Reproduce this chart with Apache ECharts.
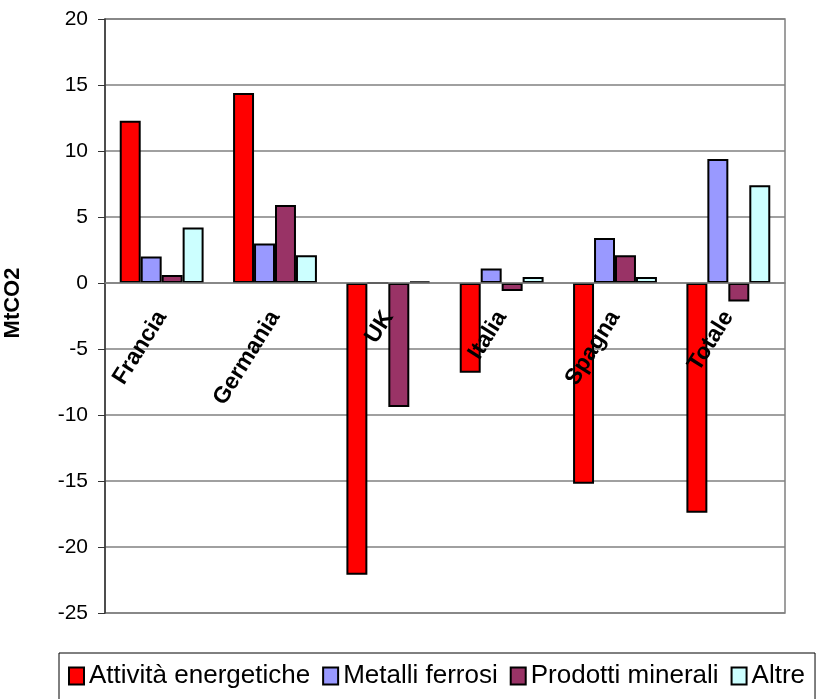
<!DOCTYPE html>
<html>
<head>
<meta charset="utf-8">
<script src="https://cdn.jsdelivr.net/npm/echarts@6/dist/echarts.min.js"></script>
<style>
  html, body { margin: 0; padding: 0; background: #fff; }
  #main { width: 817px; height: 699px; }
</style>
</head>
<body>
<div id="main"></div>
<script>
// valori (MtCO2)
var paesi = ["Francia", "Germania", "UK", "Italia", "Spagna", "Totale"];
var energetiche = [12.3, 14.4, -22.1, -6.8, -15.2, -17.4];
var ferrosi = [2.0, 3.0, 0, 1.1, 3.4, 9.4];
var minerali = [0.6, 5.9, -9.4, -0.6, 2.1, -1.4];
var altre = [4.2, 2.1, 0.1, 0.45, 0.45, 7.4];

var yMin = -25, yMax = 20, yStep = 5;

var font = "Liberation Sans, Arial, sans-serif";
var gridTop = 19, gridBottom = 86;
var plotH = 699 - gridTop - gridBottom;
// sposta l'asse delle categorie sulla linea dello zero
var xOffset = -plotH * (0 - yMin) / (yMax - yMin);

function serie(nome, dati, colore) {
  return {
    name: nome,
    type: "bar",
    data: dati,
    barGap: 0,
    barCategoryGap: "26%",
    itemStyle: { color: colore, borderColor: "#000", borderWidth: 2 }
  };
}

var myChart = echarts.init(document.getElementById("main"));

myChart.setOption({
  animation: false,
  textStyle: { fontFamily: font },
  grid: {
    left: 105, right: 32, top: gridTop, bottom: gridBottom,
    containLabel: false,
    outerBoundsMode: "none",
    show: true, borderColor: "#808080", borderWidth: 1.5
  },
  legend: {
    left: 59, top: 653, width: 790,
    padding: [10, 10, 40, 9],
    borderColor: "#000", borderWidth: 1,
    icon: "rect",
    itemWidth: 15, itemHeight: 17, itemGap: 12,
    textStyle: { fontFamily: font, fontSize: 26, color: "#000" },
    data: ["Attività energetiche", "Metalli ferrosi", "Prodotti minerali", "Altre"]
  },
  xAxis: {
    type: "category",
    data: paesi,
    position: "bottom",
    offset: xOffset,
    z: 10,
    axisLine: { onZero: false, lineStyle: { color: "#808080", width: 1.5 } },
    axisTick: { length: 7, lineStyle: { color: "#808080" } },
    axisLabel: {
      rotate: 58, margin: 30, interval: 0,
      fontFamily: font, fontSize: 23, fontWeight: "bold", color: "#000"
    }
  },
  yAxis: {
    type: "value",
    min: yMin, max: yMax, interval: yStep,
    name: "MtCO2",
    nameLocation: "middle",
    nameGap: 81,
    nameTextStyle: { fontFamily: font, fontSize: 22, fontWeight: "bold", color: "#000", padding: [0, 0, 0, 26] },
    axisLine: { show: true, lineStyle: { color: "#333", width: 1.5 } },
    axisTick: { show: true, length: 7, lineStyle: { color: "#333" } },
    axisLabel: { margin: 17, fontFamily: font, fontSize: 21, color: "#000" },
    splitLine: { lineStyle: { color: "#808080", width: 1.5 } }
  },
  series: [
    serie("Attività energetiche", energetiche, "#FF0000"),
    serie("Metalli ferrosi", ferrosi, "#9999FF"),
    serie("Prodotti minerali", minerali, "#993366"),
    serie("Altre", altre, "#CCFFFF")
  ]
});
</script>
</body>
</html>
